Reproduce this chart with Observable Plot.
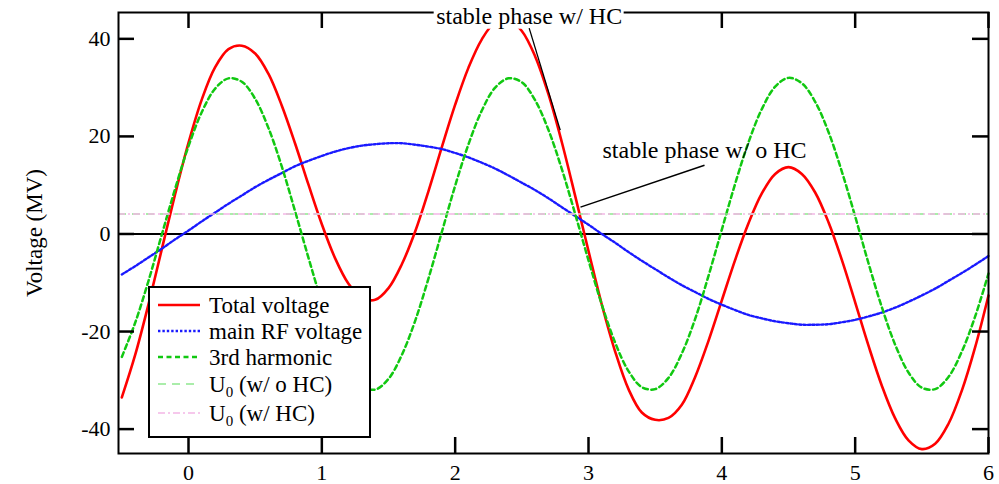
<!DOCTYPE html>
<html><head><meta charset="utf-8">
<script src="https://cdn.jsdelivr.net/npm/d3@7"></script>
<script src="https://cdn.jsdelivr.net/npm/@observablehq/plot@0.6"></script>
<style>body{margin:0;background:#fff;} svg{display:block;}</style>
</head><body>
<div id="chart"></div>
<script>
// ---- data ----
const phase = [-0.5,-0.4,-0.3,-0.2,-0.1,0,0.1,0.2,0.3,0.4,
  0.5,0.6,0.7,0.8,0.9,1.0,1.1,1.2,1.3,1.4,
  1.5,1.6,1.7,1.8,1.9,2.0,2.1,2.2,2.3,2.4,
  2.5,2.6,2.7,2.8,2.9,3.0,3.1,3.2,3.3,3.4,
  3.5,3.6,3.7,3.8,3.9,4.0,4.1,4.2,4.3,4.4,
  4.5,4.6,4.7,4.8,4.9,5.0,5.1,5.2,5.3,5.4,
  5.5,5.6,5.7,5.8,5.9,6.0];
const totalVoltage = [-33.5,-24.8,-14.4,-3.1,8.2,18.7,27.6,34.2,37.9,38.6,
  37.0,32.8,26.3,18.5,10.1,2.0,-5.0,-10.2,-13.1,-13.5,
  -11.1,-6.2,0.5,8.8,17.8,26.5,34.1,39.9,43.4,43.9,
  41.6,36.4,28.6,18.8,7.8,-3.5,-14.5,-24.1,-31.8,-36.6,
  -38.1,-37.7,-35.0,-29.3,-21.9,-13.6,-5.3,2.2,8.3,12.3,
  13.7,12.3,8.5,2.4,-5.3,-14.0,-22.9,-31.1,-37.8,-42.3,
  -44.1,-43.0,-38.9,-32.1,-23.2,-12.6];
const mainRF = [-8.3,-6.6,-4.8,-3.0,-1.1,0.7,2.6,4.4,6.2,7.9,
  9.6,11.1,12.5,13.9,15.0,16.0,16.9,17.6,18.1,18.4,
  18.6,18.6,18.3,17.9,17.4,16.6,15.7,14.6,13.4,12.0,
  10.5,9.0,7.3,5.5,3.7,1.9,0.0,-1.8,-3.7,-5.5,
  -7.2,-8.9,-10.5,-11.9,-13.3,-14.5,-15.6,-16.6,-17.3,-17.9,
  -18.3,-18.6,-18.6,-18.5,-18.1,-17.6,-16.9,-16.1,-15.1,-13.9,
  -12.6,-11.2,-9.6,-8.0,-6.3,-4.5];
const harmonic3 = [-25.2,-18.2,-9.6,-0.1,9.3,18.0,25.0,29.8,31.9,31.2,
  27.7,21.7,13.8,4.6,-4.9,-14.0,-21.9,-27.8,-31.2,-31.9,
  -29.7,-24.8,-17.8,-9.1,0.4,9.9,18.4,25.3,30.0,31.9,
  31.1,27.4,21.3,13.3,4.1,-5.4,-14.5,-22.3,-28.1,-31.4,
  -31.8,-29.5,-24.5,-17.4,-8.6,0.9,10.3,18.8,25.6,30.2,
  32.0,30.9,27.1,20.9,12.8,3.6,-6.0,-15.0,-22.7,-28.4,
  -31.5,-31.8,-29.3,-24.1,-16.9,-8.1];
const u0WithoutHC = [4.1];
const u0WithHC = [4.1];
const xTicks = [0,1,2,3,4,5,6];
const yTicks = [-40,-20,0,20,40];
const yLabel = "Voltage (MV)";
const legendLabels = ["Total voltage","main RF voltage","3rd harmonic","(w/ o HC)","(w/ HC)"];
const noHCLabel = [{text:"stable phase w/ o HC", x:3.87, y:15.5}];
const noHCPointer = [{x1:2.94, y1:5.5, x2:3.87, y2:14.1}];
const hcLabel = [{text:"stable phase w/ HC", x:2.555, y:43.0}];
const hcPointer = [{x1:2.555, y1:42.2, x2:2.788, y2:21.3}];

const table = phase.map((x, i) => ({x, total: totalVoltage[i], main: mainRF[i], third: harmonic3[i]}));

const FONT = "'Liberation Serif', 'Times New Roman', serif";
const C = {red:"#ff0000", blue:"#1a1aff", green:"#11c811", lgreen:"#8fe88f", pink:"#f4b6e6"};
const W = 999, H = 484, ML = 118, MR = 11, MT = 12, MB = 31;
const plotW = W - ML - MR, plotH = H - MT - MB;
const TICK = 16;

const plot = Plot.plot({
  width: W, height: H,
  marginLeft: ML, marginRight: MR, marginTop: MT, marginBottom: MB,
  x: {domain: [-0.525, 6.0]},
  y: {domain: [-45.0, 45.4]},
  style: {fontFamily: FONT, fontSize: "22px", color: "black", background: "white"},
  marks: [
    Plot.ruleY([0], {stroke: "black", strokeWidth: 2}),
    Plot.line(table, {x: "x", y: "total", stroke: C.red, strokeWidth: 2.6, curve: "catmull-rom"}),
    Plot.line(table, {x: "x", y: "main", stroke: C.blue, strokeWidth: 2.4, strokeDasharray: "2.4,2", curve: "catmull-rom"}),
    Plot.line(table, {x: "x", y: "third", stroke: C.green, strokeWidth: 2.5, strokeDasharray: "5,3.5", curve: "catmull-rom"}),
    Plot.ruleY(u0WithoutHC, {stroke: C.lgreen, strokeWidth: 1.5, strokeDasharray: "8,6"}),
    Plot.ruleY(u0WithHC, {stroke: C.pink, strokeWidth: 1.5, strokeDasharray: "7,3,2,3"}),
    Plot.frame({stroke: "black", strokeWidth: 2}),
    // inward ticks on all four sides
    Plot.tickX(xTicks, {x: d => d, insetTop: plotH - TICK, stroke: "#000", strokeWidth: 2.5}),
    Plot.tickX(xTicks, {x: d => d, insetBottom: plotH - TICK, stroke: "#000", strokeWidth: 2.5}),
    Plot.tickY(yTicks, {y: d => d, insetRight: plotW - TICK, stroke: "#000", strokeWidth: 2.5}),
    Plot.tickY(yTicks, {y: d => d, insetLeft: plotW - TICK, stroke: "#000", strokeWidth: 2.5}),
    Plot.axisX(xTicks, {anchor: "bottom", tickSize: 0, tickPadding: 11, fontSize: 22, tickFormat: d => String(d), label: null}),
    Plot.axisY(yTicks, {anchor: "left", tickSize: 0, tickPadding: 8, fontSize: 22, tickFormat: d => String(d), label: null}),
    Plot.text([yLabel], {frameAnchor: "left", dx: -84, rotate: -90, fontSize: 23, textAnchor: "middle", lineAnchor: "middle"}),
    Plot.link(noHCPointer, {x1: "x1", y1: "y1", x2: "x2", y2: "y2", stroke: "black", strokeWidth: 1.5}),
    Plot.text(noHCLabel, {x: "x", y: "y", text: "text", fontSize: 24, textAnchor: "middle", lineAnchor: "bottom", fill: "black"}),
    Plot.text(hcLabel, {x: "x", y: "y", text: "text", fontSize: 24, textAnchor: "middle", lineAnchor: "bottom", className: "hc-label", fill: "black"}),
    Plot.link(hcPointer, {x1: "x1", y1: "y1", x2: "x2", y2: "y2", stroke: "black", strokeWidth: 1.3})
  ]
});
document.getElementById("chart").append(plot);

const NS = "http://www.w3.org/2000/svg";
const hcG = plot.querySelector(".hc-label") || Array.from(plot.querySelectorAll("text")).find(t => t.textContent === hcLabel[0].text);

// white box behind the top label (covers frame, tick & curve as in reference)
if (hcG) {
  const bb = hcG.getBBox();
  const r = document.createElementNS(NS, "rect");
  r.setAttribute("x", bb.x - 2); r.setAttribute("y", bb.y - 4);
  r.setAttribute("width", bb.width + 4); r.setAttribute("height", bb.height + 4);
  r.setAttribute("fill", "white");
  hcG.parentNode.insertBefore(r, hcG);
}

// legend box
const svg = d3.select(plot);
const lg = svg.append("g").attr("font-family", FONT).attr("font-size", 23).attr("text-anchor", "start");
lg.append("rect").attr("x", 149).attr("y", 287).attr("width", 221).attr("height", 150)
  .attr("fill", "white").attr("stroke", "black").attr("stroke-width", 2);
const legendStyles = [
  {stroke: C.red, dash: null, w: 2.6},
  {stroke: C.blue, dash: "2.4,2", w: 2.4},
  {stroke: C.green, dash: "5,3.5", w: 2.5},
  {stroke: C.lgreen, dash: "8,6", w: 1.5},
  {stroke: C.pink, dash: "7,3,2,3", w: 1.5}
];
const rowY = [305, 331, 357, 384, 413];
legendLabels.forEach((lab, i) => {
  const y = rowY[i];
  const s = legendStyles[i];
  const ln = lg.append("line").attr("x1", 158).attr("x2", 200).attr("y1", y).attr("y2", y)
    .attr("stroke", s.stroke).attr("stroke-width", s.w);
  if (s.dash) ln.attr("stroke-dasharray", s.dash);
  const t = lg.append("text").attr("x", 209).attr("y", y + 8).attr("fill", "black").attr("text-anchor", "start");
  if (i >= 3) {
    t.append("tspan").text("U");
    t.append("tspan").attr("font-size", 15).attr("dy", 5).text("0");
    t.append("tspan").attr("dy", -5).text(" " + lab);
  } else {
    t.text(lab);
  }
});
</script>
</body></html>
